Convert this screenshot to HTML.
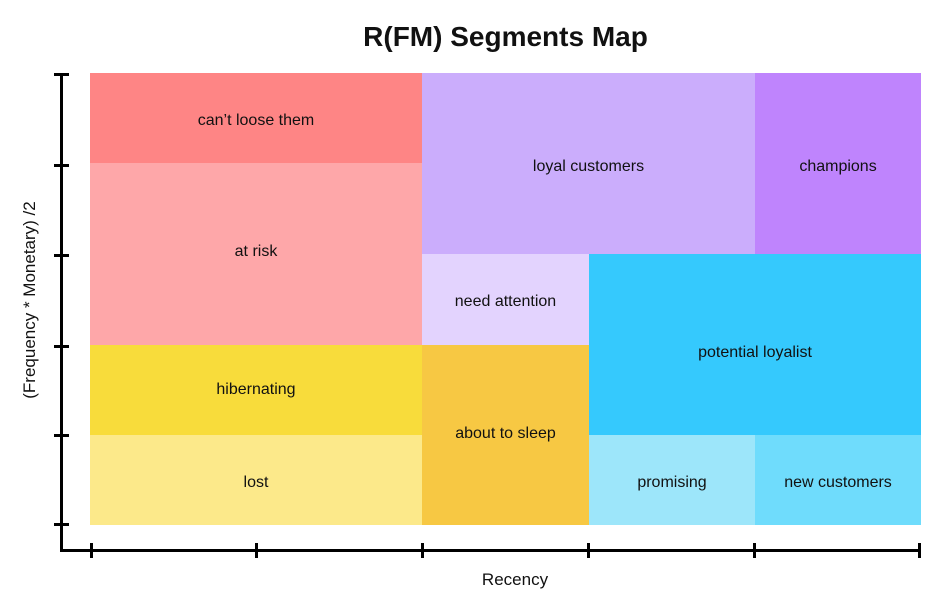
<!DOCTYPE html>
<html><head><meta charset="utf-8"><style>
body{margin:0;background:#fff;width:940px;height:600px;overflow:hidden;position:relative;font-family:"Liberation Sans",sans-serif}
.b{position:absolute;display:flex;align-items:center;justify-content:center;font-size:16px;color:#111;box-sizing:border-box}
.l{position:absolute;background:#000}
</style></head><body>
<div style="position:absolute;left:90px;width:831px;top:21px;text-align:center;font-size:28px;font-weight:bold;color:#111">R(FM) Segments Map</div>
<div class="b" style="left:90px;top:73px;width:332px;height:90px;background:#fe8585;padding-top:6px">can’t loose them</div>
<div class="b" style="left:90px;top:163px;width:332px;height:182px;background:#fea7a9;padding-bottom:4px">at risk</div>
<div class="b" style="left:90px;top:345px;width:332px;height:90px;background:#f8dc3b">hibernating</div>
<div class="b" style="left:90px;top:435px;width:332px;height:90px;background:#fce98a;padding-top:6px">lost</div>
<div class="b" style="left:422px;top:73px;width:333px;height:181px;background:#cbadfc;padding-top:7px">loyal customers</div>
<div class="b" style="left:755px;top:73px;width:166px;height:181px;background:#bf84fd;padding-top:7px">champions</div>
<div class="b" style="left:422px;top:254px;width:167px;height:91px;background:#e3d3fe;padding-top:5px">need attention</div>
<div class="b" style="left:589px;top:254px;width:332px;height:181px;background:#35c9fd;padding-top:17px">potential loyalist</div>
<div class="b" style="left:422px;top:345px;width:167px;height:180px;background:#f7c843;padding-bottom:3px">about to sleep</div>
<div class="b" style="left:589px;top:435px;width:166px;height:90px;background:#9de6fa;padding-top:6px">promising</div>
<div class="b" style="left:755px;top:435px;width:166px;height:90px;background:#6fdcfc;padding-top:6px">new customers</div>
<div class="l" style="left:60px;top:73px;width:3px;height:479px"></div>
<div class="l" style="left:60px;top:549px;width:861px;height:3px"></div>
<div class="l" style="left:54px;top:73px;width:15px;height:3px"></div>
<div class="l" style="left:54px;top:164px;width:15px;height:3px"></div>
<div class="l" style="left:54px;top:254px;width:15px;height:3px"></div>
<div class="l" style="left:54px;top:345px;width:15px;height:3px"></div>
<div class="l" style="left:54px;top:434px;width:15px;height:3px"></div>
<div class="l" style="left:54px;top:523px;width:15px;height:3px"></div>
<div class="l" style="left:90px;top:543px;width:3px;height:15px"></div>
<div class="l" style="left:255px;top:543px;width:3px;height:15px"></div>
<div class="l" style="left:421px;top:543px;width:3px;height:15px"></div>
<div class="l" style="left:587px;top:543px;width:3px;height:15px"></div>
<div class="l" style="left:753px;top:543px;width:3px;height:15px"></div>
<div class="l" style="left:918px;top:543px;width:3px;height:15px"></div>
<div style="position:absolute;left:415px;width:200px;top:570px;text-align:center;font-size:17px;color:#111">Recency</div>
<div style="position:absolute;left:-70px;top:290px;width:200px;text-align:center;font-size:17px;color:#111;transform:rotate(-90deg)">(Frequency * Monetary) /2</div>
</body></html>
